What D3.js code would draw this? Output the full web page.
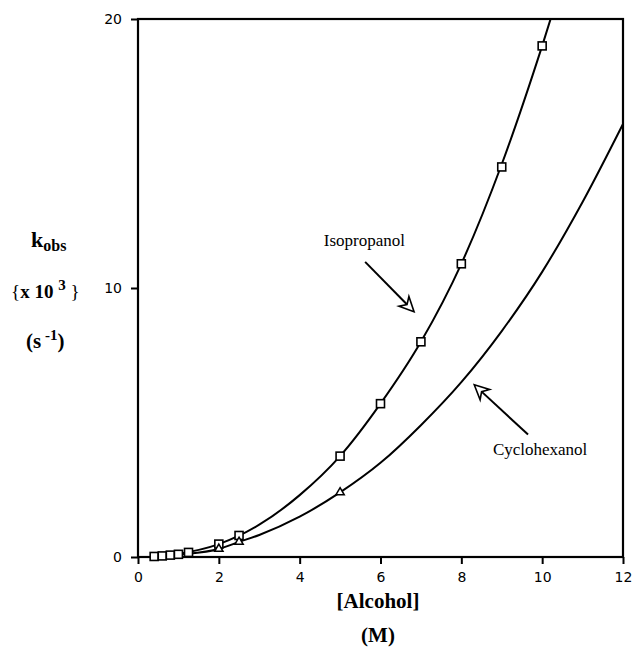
<html>
<head>
  <script src="https://d3js.org/d3.v7.min.js"></script>
  <style>
    body { margin: 0; background: white; }
  </style>
</head>
<body>
  <svg id="chart" width="633" height="650"></svg>
  <script>

    // data
    const xTicks = [0, 2, 4, 6, 8, 10, 12];
    const yTicks = [0, 10, 20];

    const isoX = [0.4, 0.6, 0.8, 1.0, 1.25, 2, 2.5, 5, 6, 7, 8, 9, 10];
    const isoY = [0.02, 0.04, 0.07, 0.1, 0.17, 0.48, 0.8, 3.75, 5.7, 8.0, 10.9, 14.5, 19.0];

    const cycX = [2, 2.5, 5];
    const cycY = [0.3, 0.56, 2.4];

    // fitted curves
    const isoCurveX = [0.4, 1, 2, 3, 4, 5, 6, 7, 8, 9, 10, 10.5];
    const isoCurveY = [0.02, 0.12, 0.48, 1.2, 2.3, 3.75, 5.7, 8.0, 10.9, 14.6, 19.0, 21.4];

    const cycCurveX = [0.4, 1, 2, 2.5, 3, 4, 5, 6, 7, 8, 9, 10, 11, 12];
    const cycCurveY = [0.01, 0.09, 0.3, 0.56, 0.82, 1.5, 2.4, 3.5, 4.9, 6.5, 8.4, 10.6, 13.2, 16.1];

    const svg = d3.select("#chart");
    const margin = { top: 19, right: 10, bottom: 93, left: 138 };
    const width = 623 - margin.left;
    const height = 557 - margin.top;

    const g = svg.append("g")
      .attr("transform", "translate(" + margin.left + "," + margin.top + ")");

    const x = d3.scaleLinear().domain([0, 12]).range([0, width]);
    const y = d3.scaleLinear().domain([0, 20]).range([height, 0]);

    const serif = "'Liberation Serif', 'DejaVu Serif', serif";
    const sans = "'DejaVu Sans', sans-serif";

    // axes
    const xAxis = g.append("g")
      .attr("transform", "translate(0," + height + ")")
      .call(d3.axisBottom(x).tickValues(xTicks).tickSize(7).tickPadding(8));
    const yAxis = g.append("g")
      .call(d3.axisLeft(y).tickValues(yTicks).tickSize(7).tickPadding(9));

    [xAxis, yAxis].forEach(a => {
      a.select(".domain").remove();
      a.selectAll("line").attr("stroke", "black").attr("stroke-width", 2);
      a.selectAll("text").attr("font-family", sans).attr("font-size", 14).attr("fill", "black");
    });

    // frame
    g.append("rect")
      .attr("width", width).attr("height", height)
      .attr("fill", "none").attr("stroke", "black").attr("stroke-width", 2.2);

    g.append("clipPath").attr("id", "clip")
      .append("rect").attr("width", width).attr("height", height);

    const line = d3.line()
      .x(d => x(d[0])).y(d => y(d[1]))
      .curve(d3.curveMonotoneX);

    g.append("path")
      .datum(d3.zip(isoCurveX, isoCurveY))
      .attr("clip-path", "url(#clip)")
      .attr("d", line)
      .attr("fill", "none").attr("stroke", "black").attr("stroke-width", 2);

    g.append("path")
      .datum(d3.zip(cycCurveX, cycCurveY))
      .attr("clip-path", "url(#clip)")
      .attr("d", line)
      .attr("fill", "none").attr("stroke", "black").attr("stroke-width", 2);

    // markers
    g.selectAll(".iso").data(d3.zip(isoX, isoY))
      .join("rect")
      .attr("class", "iso")
      .attr("x", d => x(d[0]) - 4).attr("y", d => y(d[1]) - 4)
      .attr("width", 8).attr("height", 8)
      .attr("fill", "white").attr("stroke", "black").attr("stroke-width", 1.6);

    const tri = d3.symbol().type(d3.symbolTriangle).size(30);
    g.selectAll(".cyc").data(d3.zip(cycX, cycY))
      .join("path")
      .attr("class", "cyc")
      .attr("transform", d => "translate(" + x(d[0]) + "," + y(d[1]) + ")")
      .attr("d", tri)
      .attr("fill", "white").attr("stroke", "black").attr("stroke-width", 1.5);

    // hollow arrow from (x0,y0) to tip (x1,y1), data coords
    function arrow(x0, y0, x1, y1) {
      const px0 = x(x0), py0 = y(y0), px1 = x(x1), py1 = y(y1);
      const ang = Math.atan2(py1 - py0, px1 - px0);
      const len = 16, spread = 0.45, notch = 10;
      const w1 = [px1 - len * Math.cos(ang - spread), py1 - len * Math.sin(ang - spread)];
      const w2 = [px1 - len * Math.cos(ang + spread), py1 - len * Math.sin(ang + spread)];
      const nb = [px1 - notch * Math.cos(ang), py1 - notch * Math.sin(ang)];
      g.append("line")
        .attr("x1", px0).attr("y1", py0).attr("x2", nb[0]).attr("y2", nb[1])
        .attr("stroke", "black").attr("stroke-width", 2);
      g.append("path")
        .attr("d", "M" + px1 + "," + py1 + "L" + w1 + "L" + nb + "L" + w2 + "Z")
        .attr("fill", "white").attr("stroke", "black").attr("stroke-width", 1.6)
        .attr("stroke-linejoin", "miter");
    }

    arrow(5.62, 10.97, 6.83, 9.12);
    arrow(9.65, 4.55, 8.32, 6.4);

    g.append("text")
      .attr("x", x(5.6)).attr("y", y(11.55))
      .attr("text-anchor", "middle")
      .attr("font-family", serif).attr("font-size", 17)
      .text("Isopropanol");

    g.append("text")
      .attr("x", x(9.95)).attr("y", y(3.8))
      .attr("text-anchor", "middle")
      .attr("font-family", serif).attr("font-size", 17)
      .text("Cyclohexanol");

    // axis titles
    const kobs = svg.append("text")
      .attr("x", 31).attr("y", 247)
      .attr("font-family", serif).attr("font-size", 22).attr("font-weight", "bold");
    kobs.append("tspan").text("k");
    kobs.append("tspan").attr("font-size", 16).attr("dy", 4).text("obs");

    const mult = svg.append("text")
      .attr("x", 11).attr("y", 298)
      .attr("font-family", serif).attr("font-size", 19).attr("font-weight", "bold");
    mult.append("tspan").attr("font-weight", "normal").text("{");
    mult.append("tspan").text("x 10 ");
    mult.append("tspan").attr("font-size", 15).attr("dy", -8).text(" 3");
    mult.append("tspan").attr("dy", 8).attr("font-weight", "normal").text("  }");

    const unit = svg.append("text")
      .attr("x", 26).attr("y", 348)
      .attr("font-family", serif).attr("font-size", 21).attr("font-weight", "bold");
    unit.append("tspan").text("(s");
    unit.append("tspan").attr("font-size", 15).attr("dy", -8).text(" -1");
    unit.append("tspan").attr("dy", 8).text(")");

    svg.append("text")
      .attr("x", 378).attr("y", 608)
      .attr("text-anchor", "middle")
      .attr("font-family", serif).attr("font-size", 21).attr("font-weight", "bold")
      .text("[Alcohol]");

    svg.append("text")
      .attr("x", 378).attr("y", 642)
      .attr("text-anchor", "middle")
      .attr("font-family", serif).attr("font-size", 21).attr("font-weight", "bold")
      .text("(M)");

  </script>
</body>
</html>
